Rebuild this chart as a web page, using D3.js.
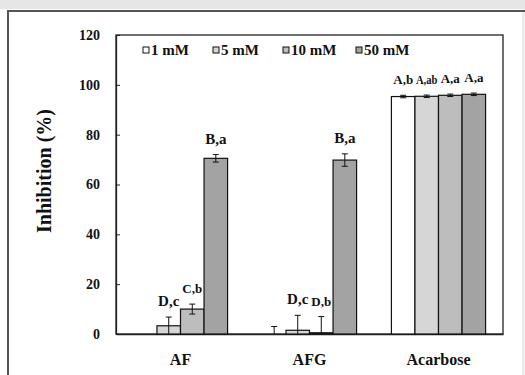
<!DOCTYPE html>
<html>
<head>
<meta charset="utf-8">
<script src="https://cdn.jsdelivr.net/npm/d3@7"></script>
<style>
  html, body { margin: 0; padding: 0; background: #ffffff; }
  svg { display: block; }
  text { font-family: "Liberation Serif", "Times New Roman", serif; font-weight: bold; fill: #111; }
</style>
</head>
<body>
<script>
// ---- data ----
const categories = ["AF", "AFG", "Acarbose"];
const seriesNames = ["1 mM", "5 mM", "10 mM", "50 mM"];
const seriesColors = ["#ffffff", "#d6d6d6", "#bdbdbd", "#a3a3a3"];
const valuesAF = [0, 3.3, 10, 70.5];
const valuesAFG = [0, 1.5, 0.5, 69.8];
const valuesAcarbose = [95.3, 95.4, 95.8, 96.2];
const errorsAF = [0, 3.5, 2, 1.5];
const errorsAFG = [3, 6, 6.5, 2.5];
const errorsAcarbose = [0.5, 0.5, 0.5, 0.5];
const labelsAF = ["", "D,c", "C,b", "B,a"];
const labelsAFG = ["", "D,c", "D,b", "B,a"];
const labelsAcarbose = ["A,b", "A,ab", "A,a", "A,a"];
const yTicks = [0, 20, 40, 60, 80, 100, 120];
const yLabel = "Inhibition (%)";

const values = [valuesAF, valuesAFG, valuesAcarbose];
const errors = [errorsAF, errorsAFG, errorsAcarbose];
const labels = [labelsAF, labelsAFG, labelsAcarbose];

const W = 525, H = 375;
const svg = d3.select("body").append("svg").attr("width", W).attr("height", H);

// outer frame
svg.append("rect").attr("x", 0).attr("y", 0).attr("width", W).attr("height", 9).attr("fill", "#e6e6e6");
svg.append("rect").attr("x", 522).attr("y", 9).attr("width", 3).attr("height", H).attr("fill", "#ececec");
svg.append("line").attr("x1", 8).attr("x2", W).attr("y1", 11).attr("y2", 11).attr("stroke", "#555").attr("stroke-width", 2);
svg.append("line").attr("x1", 8).attr("x2", 8).attr("y1", 10).attr("y2", H).attr("stroke", "#555").attr("stroke-width", 2);

const pLeft = 116, pRight = 503, pTop = 35, pBottom = 334;

const x = d3.scaleBand().domain(categories).range([pLeft, pRight]).paddingInner(0.27).paddingOuter(0.135);
const xs = d3.scaleBand().domain(seriesNames).range([0, x.bandwidth()]);
const y = d3.scaleLinear().domain([0, 120]).range([pBottom, pTop]);

// plot box
svg.append("rect").attr("x", pLeft).attr("y", pTop).attr("width", pRight - pLeft).attr("height", pBottom - pTop)
  .attr("fill", "none").attr("stroke", "#222").attr("stroke-width", 1.3);

// y axis
const yAxis = d3.axisLeft(y).tickValues(yTicks).tickSizeInner(-4).tickSizeOuter(0).tickPadding(16);
const ga = svg.append("g").attr("transform", `translate(${pLeft},0)`).call(yAxis);
ga.select(".domain").attr("stroke", "#222").attr("stroke-width", 1.3);
ga.selectAll(".tick line").attr("stroke", "#222");
ga.selectAll(".tick text").style("font-size", "14px").style("font-family", "Liberation Serif, serif").style("font-weight", "bold").attr("fill", "#111");

// x axis labels
const xAxis = d3.axisBottom(x).tickSize(0).tickPadding(20);
const gx = svg.append("g").attr("transform", `translate(0,${pBottom})`).call(xAxis);
gx.select(".domain").attr("stroke", "#222").attr("stroke-width", 1.3);
gx.selectAll(".tick text").style("font-size", "16px").style("font-family", "Liberation Serif, serif").style("font-weight", "bold").attr("fill", "#111");

// bars
categories.forEach((c, ci) => {
  const g = svg.append("g").attr("transform", `translate(${x(c)},0)`);
  seriesNames.forEach((s, si) => {
    const v = values[ci][si], e = errors[ci][si];
    const bx = xs(s), bw = xs.bandwidth(), cx = bx + bw / 2;
    g.append("rect").attr("x", bx).attr("y", y(v)).attr("width", bw).attr("height", y(0) - y(v))
      .attr("fill", seriesColors[si]).attr("stroke", "#111").attr("stroke-width", 1.2);
    if (e > 0) {
      g.append("line").attr("x1", cx).attr("x2", cx).attr("y1", y(v + e)).attr("y2", y(Math.max(0, v - e)))
        .attr("stroke", "#111").attr("stroke-width", 1);
      g.append("line").attr("x1", cx - 3).attr("x2", cx + 3).attr("y1", y(v + e)).attr("y2", y(v + e))
        .attr("stroke", "#111").attr("stroke-width", 1);
      if (v - e > 0) {
        g.append("line").attr("x1", cx - 3).attr("x2", cx + 3).attr("y1", y(v - e)).attr("y2", y(v - e))
          .attr("stroke", "#111").attr("stroke-width", 1);
      }
    }
    const lab = labels[ci][si];
    if (lab) {
      const t = g.append("text").attr("x", cx).attr("y", y(v + e) - 11).attr("text-anchor", "middle")
        .style("font-size", "15px").text(lab);
      let tw = t.node().getComputedTextLength();
      if (tw > bw - 2) {
        t.style("font-size", "13px");
        tw = t.node().getComputedTextLength();
        if (tw > bw - 2) {
          t.attr("textLength", bw - 2).attr("lengthAdjust", "spacingAndGlyphs");
        }
      }
    }
  });
});

// legend
const legendX = [143, 213, 283, 356];
seriesNames.forEach((s, i) => {
  svg.append("rect").attr("x", legendX[i]).attr("y", 47).attr("width", 6).attr("height", 6)
    .attr("fill", seriesColors[i]).attr("stroke", "#111").attr("stroke-width", 1);
  svg.append("text").attr("x", legendX[i] + 8).attr("y", 55).style("font-size", "15px").text(s);
});

// y label
svg.append("text").attr("transform", `translate(51,171) rotate(-90)`)
  .attr("text-anchor", "middle").style("font-size", "20px").text(yLabel);
</script>
</body>
</html>
